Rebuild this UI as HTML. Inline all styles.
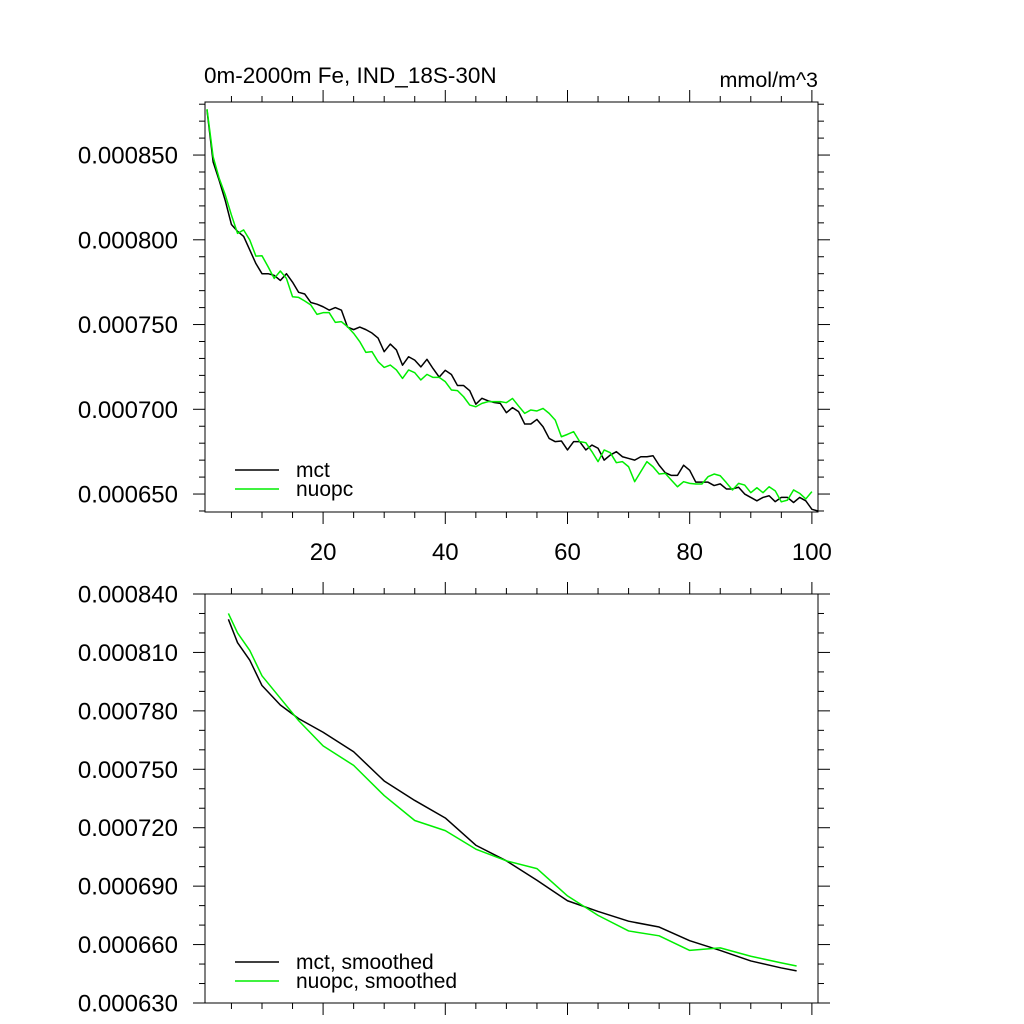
<!DOCTYPE html>
<html><head><meta charset="utf-8">
<style>
html,body{margin:0;padding:0;background:#fff;}
svg{display:block;font-family:"Liberation Sans",Arial,sans-serif;}
</style></head>
<body>
<svg id="chart" width="1024" height="1024" viewBox="0 0 1024 1024" xmlns="http://www.w3.org/2000/svg">
<text x="204" y="83" font-size="22.5">0m-2000m Fe, IND_18S-30N</text>
<text x="818" y="87" font-size="21.5" text-anchor="end">mmol/m^3</text>
<g id="top"></g>
<g id="bot"></g>
</svg>
<script>
const mctRaw = [876.5,846,835,823,809,805,802,794,786,780,780,779,776,780,775,769,768,763,762,760.5,758.5,760,758.5,748.5,747,748.5,747,745,742,734,738.5,735,726,731,729,725,729.5,724,719,723,720.5,714,714,711,703,706.5,705,704,
703.5,698,701,698.6,691.3,691.3,694,689.7,682.8,680.9,681.3,676,680.9,680.9,676,678.9,677,670,673,675,672,671,670,672,672,672.6,667,662.6,661,661,667,664,657,657,657,655,656,653,653,654,650,648,646,648,649,645.5,648,648,645,648,646,641,640];
const nuopcRaw = [877.1,849,836.2,826.4,814.6,803.8,805.8,799.9,790.4,790.6,784.1,777.2,781.6,777.2,766.4,766,763.9,761.5,756,757,757,751.3,751.7,748.7,744.8,739.9,733.6,734,728.1,724.7,726.1,723.2,718.2,723.2,721.6,717.3,720.6,718.8,718.8,716.3,711.4,711,707.4,702.5,701.5,703.5,704.5,704.5,
704.5,703.9,706.4,701.9,697.6,699.6,699,700.5,697.6,693.6,683.8,685.2,686.8,680.9,680.3,675,669.1,676,674.4,668.5,669.1,666.1,657.3,663.2,669.1,666.1,661.8,662.2,658.2,654.3,657.3,656.3,655.9,655.9,660.2,661.8,660.8,656.7,652.4,656.3,655.3,650.8,653.7,650.8,654.3,651.9,645.4,646.4,652.4,650.4,647.1,651.4];
const smoothX = [4.5,6,8,10,13,16,20,25,30,35,40,45,50,55,60,65,70,75,80,85,90,95,97.5];
const mctSmooth = [827,815,806,793,783,776,769,759,744,734,725,711,703,693,682.5,677,672,669,662,657,651.6,648,646.5];
const nuopcSmooth = [830,820,811,798,786.5,775,762,752,736.5,723.7,718.5,709,703,699,685,675,667,664.5,657,658.3,654,650.6,649];
const topYTicks = [650,700,750,800,850];
const botYTicks = [630,660,690,720,750,780,810,840];
const xTicks = [20,40,60,80,100];

const NS="http://www.w3.org/2000/svg";
const L=205,R=818;
const xs = v => L + 2 + (v-1)/(101-1)*(R-L-2);
function mk(parent,tag,attrs){const e=document.createElementNS(NS,tag);for(const k in attrs)e.setAttribute(k,attrs[k]);parent.appendChild(e);return e;}

function panel(g,top,bot,ymin,ymax,yticks,ymStep,labels,series,legend,prefix){
  const ys = v => bot - (v-ymin)/(ymax-ymin)*(bot-top);
  const ax = mk(g,'g',{stroke:'#000','stroke-width':1});
  
  
  mk(ax,'rect',{x:L,y:top,width:R-L,height:bot-top,fill:'none'});
  for(let v=5; v<=101; v+=5){
    const major = v%20===0, len = major?12:6, x=xs(v);
    mk(ax,'line',{x1:x,y1:bot,x2:x,y2:bot+len});
    mk(ax,'line',{x1:x,y1:top,x2:x,y2:top-len});
  }
  const y0 = Math.ceil(ymin/ymStep)*ymStep;
  for(let v=y0; v<=ymax+1e-9; v+=ymStep){
    const vr=Math.round(v*100)/100;
    const major = yticks.some(t=>Math.abs(t-vr)<1e-6), len=major?12:6, y=ys(vr);
    mk(ax,'line',{x1:L,y1:y,x2:L-len,y2:y});
    mk(ax,'line',{x1:R,y1:y,x2:R+len,y2:y});
  }
  yticks.forEach(t=>{
    const tx = mk(g,'text',{x:178,y:ys(t)+8.5,'font-size':24,'text-anchor':'end'});
    
    
    tx.textContent = (t/1e6).toFixed(6);
  });
  if(labels){
    xTicks.forEach(t=>{
      const tx = mk(g,'text',{x:xs(t),y:bot+48,'font-size':24,'text-anchor':'middle'});
      
      
      tx.textContent = t;
    });
  }
  series.forEach(s=>{
    const pts = s.vals.map((v,i)=>xs(s.x[i])+','+ys(v)).join(' ');
    const pl = mk(g,'polyline',{points:pts,fill:'none',stroke:s.color,'stroke-width':1.5,'stroke-linejoin':'round'});
    
    
  });
  legend.forEach((lg,i)=>{
    const y = lg.y;
    const ln = mk(g,'line',{x1:235,y1:y,x2:279,y2:y,stroke:lg.color,'stroke-width':1.5});
    
    
    const tx = mk(g,'text',{x:296,y:y+7,'font-size':21});
    
    
    tx.textContent = lg.text;
  });
}
const rawX = mctRaw.map((_,i)=>i+1);
const rawXn = nuopcRaw.map((_,i)=>i+1);
panel(document.getElementById('top'),102,512,639.4,881.3,topYTicks,10,true,
  [{x:rawX,vals:mctRaw,color:'#000',name:'mct-line'},{x:rawXn,vals:nuopcRaw,color:'#00ee00',name:'nuopc-line'}],
  [{y:470,color:'#000',text:'mct'},{y:489,color:'#00ee00',text:'nuopc'}],'top');
panel(document.getElementById('bot'),594,1003,630,840,botYTicks,10,false,
  [{x:smoothX,vals:mctSmooth,color:'#000',name:'mct-smoothed-line'},{x:smoothX,vals:nuopcSmooth,color:'#00ee00',name:'nuopc-smoothed-line'}],
  [{y:962,color:'#000',text:'mct, smoothed'},{y:981,color:'#00ee00',text:'nuopc, smoothed'}],'bottom');
</script>
</body></html>
